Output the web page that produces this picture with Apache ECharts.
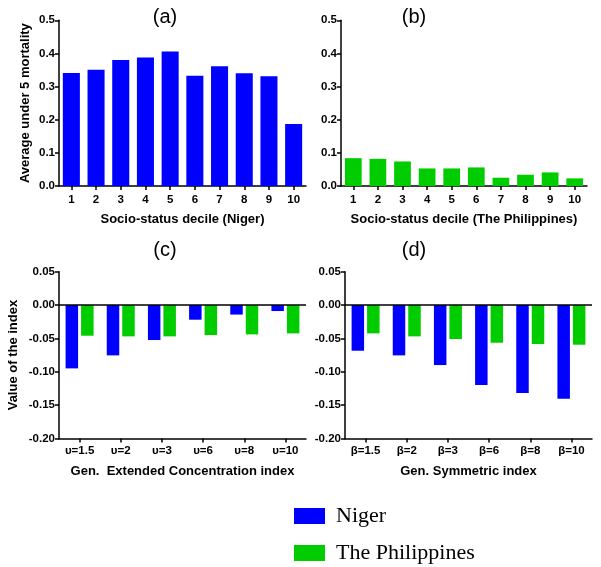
<!DOCTYPE html>
<html><head><meta charset="utf-8">
<script src="https://cdn.jsdelivr.net/npm/echarts@6/dist/echarts.min.js"></script>
<style>html,body{margin:0;padding:0;background:#fff}#c{width:601px;height:567px}</style>
</head><body><div id="c"></div>
<script>
const deciles = ['1','2','3','4','5','6','7','8','9','10'];
const nigerMortality = [0.341, 0.351, 0.380, 0.388, 0.406, 0.333, 0.361, 0.340, 0.331, 0.187];
const philMortality = [0.084, 0.082, 0.074, 0.053, 0.053, 0.056, 0.025, 0.034, 0.041, 0.023];
const geciLabels = ['υ=1.5','υ=2','υ=3','υ=6','υ=8','υ=10'];
const geciNiger = [-0.095, -0.0755, -0.0525, -0.022, -0.0143, -0.009];
const geciPhil = [-0.046, -0.047, -0.047, -0.045, -0.044, -0.0425];
const gsiLabels = ['β=1.5','β=2','β=3','β=6','β=8','β=10'];
const gsiNiger = [-0.0685, -0.0755, -0.090, -0.120, -0.132, -0.1405];
const gsiPhil = [-0.0425, -0.047, -0.051, -0.0565, -0.0585, -0.0595];
const yTicksTop = [0, 0.5, 0.1];      // min, max, interval
const yTicksBottom = [-0.20, 0.05, 0.05];

const BLUE = '#0000ff', GREEN = '#00cc00';
const FONT = 'Liberation Sans';
const tickFont = {color:'#000', fontFamily:FONT, fontWeight:'bold', fontSize:11.5};
const nameFont = {color:'#000', fontFamily:FONT, fontWeight:'bold', fontSize:13};
const axLine = {show:true, onZero:false, lineStyle:{color:'#000', width:1.5}};
const axTick = {show:true, length:4, lineStyle:{color:'#000', width:1.5}};

function xCat(gi, data, name, gap, margin) {
  return {type:'category', gridIndex:gi, data:data, name:name, nameLocation:'middle', nameGap:gap,
    nameTextStyle:nameFont, axisLine:axLine, axisTick:Object.assign({alignWithLabel:true}, axTick),
    axisLabel:Object.assign({margin:margin}, tickFont), splitLine:{show:false}};
}
function yVal(gi, t, name, dec, gap) {
  return {type:'value', gridIndex:gi, min:t[0], max:t[1], interval:t[2], name:name, nameLocation:'middle', nameGap:gap,
    nameTextStyle:nameFont, axisLine:axLine, axisTick:axTick,
    axisLabel:Object.assign({margin:4, formatter:v=>v.toFixed(dec)}, tickFont), splitLine:{show:false}};
}
const zeroLine = {silent:true, symbol:'none', label:{show:false}, lineStyle:{color:'#000', width:1.5, type:'solid'}, data:[{yAxis:0}]};
const legendBase = {orient:'vertical', left:294, itemWidth:31, itemHeight:16, icon:'rect', padding:0,
    textStyle:{fontFamily:'Liberation Serif', fontSize:22, color:'#000', padding:[0,0,0,6]}};

const chart = echarts.init(document.getElementById('c'), null, {renderer:'canvas'});
chart.setOption({
  animation:false,
  backgroundColor:'#fff',
  grid:[
    {left:59, top:20.3, width:247, height:165.7},
    {left:341, top:20.3, width:246, height:165.7},
    {left:59, top:271.7, width:247, height:166.7},
    {left:345, top:271.7, width:247, height:166.7}
  ],
  xAxis:[
    xCat(0, deciles, 'Socio-status decile (Niger)', 27, 8),
    xCat(1, deciles, 'Socio-status decile (The Philippines)', 27, 8),
    xCat(2, geciLabels, 'Gen.  Extended Concentration index', 27, 6),
    xCat(3, gsiLabels, 'Gen. Symmetric index', 27, 6)
  ],
  yAxis:[
    yVal(0, yTicksTop, 'Average under 5 mortality', 1, 27),
    yVal(1, yTicksTop, '', 1, 27),
    yVal(2, yTicksBottom, 'Value of the index', 2, 39),
    yVal(3, yTicksBottom, '', 2, 39)
  ],
  legend:[
    Object.assign({top:505, data:['Niger']}, legendBase),
    Object.assign({top:542, data:['The Philippines']}, legendBase)
  ],
  title:[
    {text:'(a)', left:165, top:17, textAlign:'center', textVerticalAlign:'middle'},
    {text:'(b)', left:414, top:17, textAlign:'center', textVerticalAlign:'middle'},
    {text:'(c)', left:165, top:250, textAlign:'center', textVerticalAlign:'middle'},
    {text:'(d)', left:414, top:250, textAlign:'center', textVerticalAlign:'middle'}
  ].map(t => Object.assign({padding:0, textStyle:{fontFamily:FONT, fontWeight:'normal', fontSize:20, color:'#000'}}, t)),
  series:[
    {name:'Niger', type:'bar', xAxisIndex:0, yAxisIndex:0, data:nigerMortality, itemStyle:{color:BLUE}, barCategoryGap:'31%'},
    {name:'The Philippines', type:'bar', xAxisIndex:1, yAxisIndex:1, data:philMortality, itemStyle:{color:GREEN}, barCategoryGap:'32%'},
    {name:'Niger', type:'bar', xAxisIndex:2, yAxisIndex:2, data:geciNiger, itemStyle:{color:BLUE}, barCategoryGap:'32%', barGap:'24%', markLine:zeroLine},
    {name:'The Philippines', type:'bar', xAxisIndex:2, yAxisIndex:2, data:geciPhil, itemStyle:{color:GREEN}, barCategoryGap:'32%', barGap:'24%'},
    {name:'Niger', type:'bar', xAxisIndex:3, yAxisIndex:3, data:gsiNiger, itemStyle:{color:BLUE}, barCategoryGap:'32%', barGap:'24%', markLine:zeroLine},
    {name:'The Philippines', type:'bar', xAxisIndex:3, yAxisIndex:3, data:gsiPhil, itemStyle:{color:GREEN}, barCategoryGap:'32%', barGap:'24%'}
  ]
});
</script></body></html>
